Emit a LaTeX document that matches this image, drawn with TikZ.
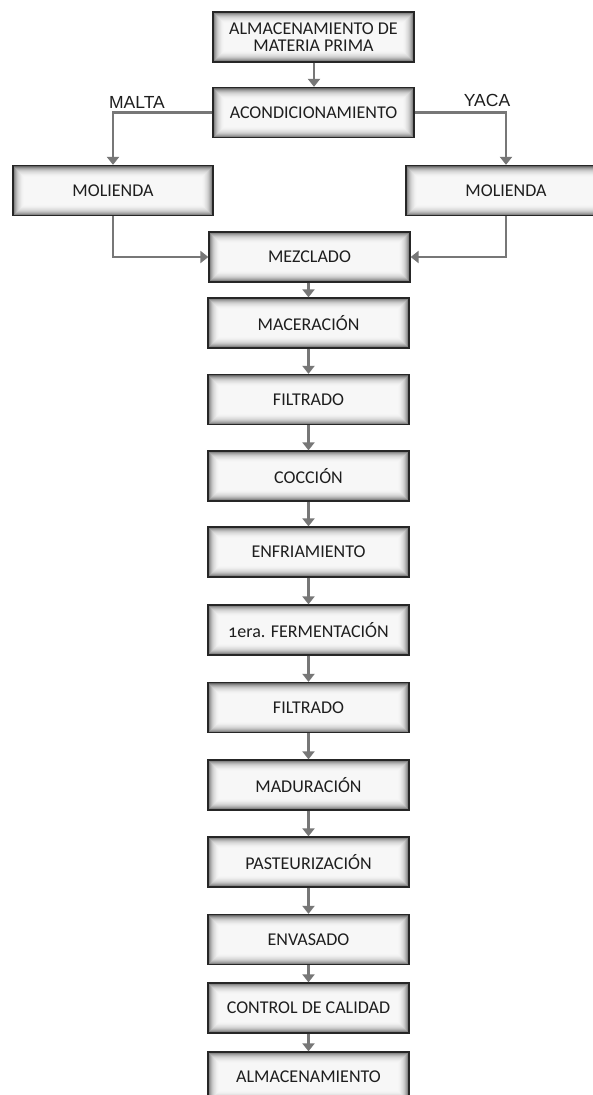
\documentclass[tikz,border=0pt]{standalone}
\usepackage{fontspec}
\setmainfont{Carlito}
\newfontfamily\labelfont{Liberation Sans}
\usetikzlibrary{arrows.meta}
\definecolor{conn}{HTML}{777777}
\definecolor{txt}{HTML}{1E1E1E}
\tikzset{
  x=1pt,y=-1pt,
  procbox/.style={draw=black!85, line width=1.3pt, minimum width=201pt, minimum height=50pt,
    inner sep=2pt, align=center, text=txt, font=\fontsize{18}{19}\selectfont,
    path picture={
      \foreach \i/\c in {0/60,1/47,2/37,3/29,4/22,5/17,6/13,7/10,8/7,9/5,10/4,11/3}{
        \fill[black!\c] ([shift={(\i pt,\i pt)}]path picture bounding box.south west)
          rectangle ([shift={(-\i pt,-\i pt)}]path picture bounding box.north east);
      }
    }},
  conn/.style={draw=conn, line width=2.4pt, -{Triangle[width=12pt,length=8pt]}},
  lbl/.style={font=\labelfont\fontsize{17.5}{19}\selectfont, text=txt, inner sep=0pt}
}
\begin{document}
\begin{tikzpicture}
\useasboundingbox (0,0) rectangle (593,1095);
\fill[white] (0,0) rectangle (593,1095);
\begin{scope}
\clip (0,0) rectangle (593,1095);
\node[procbox] (b1) at (313.5,37) {ALMACENAMIENTO DE\\[-2pt]MATERIA PRIMA};
\node[procbox] (acond) at (313.5,112.5) {ACONDICIONAMIENTO};
\node[procbox, minimum width=200pt] (ml) at (113,190.5) {MOLIENDA};
\node[procbox, minimum width=200pt] (mr) at (506,190.5) {MOLIENDA};
\node[procbox] (mez) at (309.5,257) {MEZCLADO};
\node[procbox] (macer) at (308.5,323) {MACERACIÓN};
\node[procbox] (filt) at (308.5,399.5) {FILTRADO};
\node[procbox] (cocc) at (308.5,476) {COCCIÓN};
\node[procbox] (enf) at (308.5,552) {ENFRIAMIENTO};
\node[procbox] (ferm) at (308.5,630) {{\addfontfeatures{Numbers=OldStyle}1}era. FERMENTACIÓN};
\node[procbox] (filt2) at (308.5,707.5) {FILTRADO};
\node[procbox] (madur) at (308.5,785) {MADURACIÓN};
\node[procbox] (paste) at (308.5,862) {PASTEURIZACIÓN};
\node[procbox] (envas) at (308.5,939.5) {ENVASADO};
\node[procbox] (ctrl) at (308.5,1008) {CONTROL DE CALIDAD};
\node[procbox] (alm) at (308.5,1077) {ALMACENAMIENTO};

\node[lbl] (malta) at (137,102) {MALTA};
\node[lbl] (yaca) at (487,100) {YACA};

\draw[conn] (b1.south -| 314,0) -- (acond.north -| 314,0);
\draw[conn] (acond.west) -| (ml.north);
\draw[conn] (acond.east) -| (mr.north);
\draw[conn] (ml.south) |- (mez.west);
\draw[conn] (mr.south) |- (mez.east);
\draw[conn] (mez.south -| macer.north) -- (macer.north);
\draw[conn] (macer) -- (filt);
\draw[conn] (filt) -- (cocc);
\draw[conn] (cocc) -- (enf);
\draw[conn] (enf) -- (ferm);
\draw[conn] (ferm) -- (filt2);
\draw[conn] (filt2) -- (madur);
\draw[conn] (madur) -- (paste);
\draw[conn] (paste) -- (envas);
\draw[conn] (envas) -- (ctrl);
\draw[conn] (ctrl) -- (alm);
\end{scope}
\end{tikzpicture}
\end{document}
